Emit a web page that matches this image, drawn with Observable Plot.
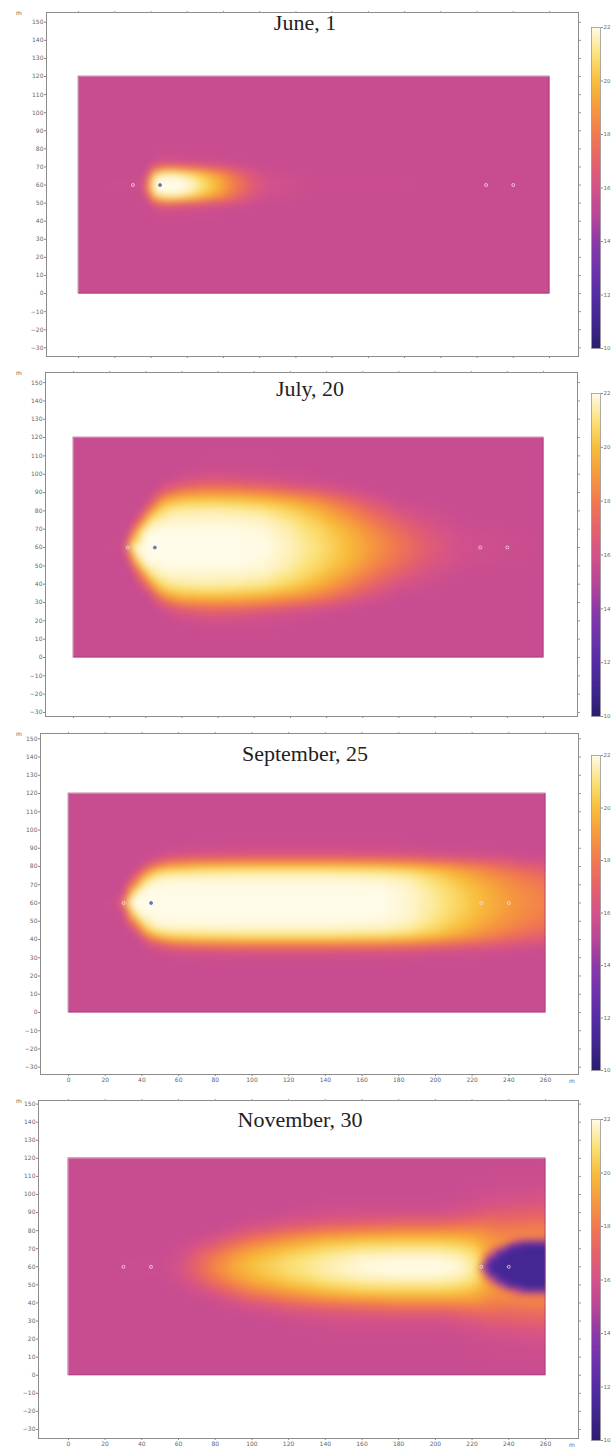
<!DOCTYPE html>
<html><head><meta charset="utf-8">
<script src="https://cdn.jsdelivr.net/npm/d3@7"></script>
<script src="https://cdn.jsdelivr.net/npm/@observablehq/plot@0.6"></script>
<style>
body{margin:0;background:#fff;}
#root{position:relative;width:616px;height:1450px;overflow:hidden;}
.abs{position:absolute;}
.title{font-family:"Liberation Serif",serif;font-size:22px;line-height:22px;color:#222;white-space:nowrap;transform:translateX(-50%);}
.unit{font-family:"DejaVu Sans",sans-serif;font-size:6px;line-height:6px;color:#666;}
</style></head><body><div id="root"></div>
<script>
// ---------- data ----------
const titles = ["June, 1", "July, 20", "September, 25", "November, 30"];
const wellX = [30, 45, 225, 240];
const wellLineY = 60;
const tankX = [0, 260];
const tankY = [0, 120];
const yTicks = [-30,-20,-10,0,10,20,30,40,50,60,70,80,90,100,110,120,130,140,150];
const xTicks = [0,20,40,60,80,100,120,140,160,180,200,220,240,260];
const cbTicks = [10,12,14,16,18,20,22];
const tempStops  = [10,11,12,13,14,15,16,17,18,19,20,21,22];
const tempColors = ["#2c1d6e","#40268f","#552ca5","#6f33ac","#8b3aa8","#ba4696","#d4528a","#e5626a","#f17a4f","#f69a3d","#f8be3c","#fbe27a","#fffbe8"];

// June 1 : columns at x stations, values at distances dy from the well line
const juneX  = [0, 30, 36, 39, 42, 48, 55, 62, 70, 78, 86, 95, 105, 130, 260];
const juneDy = [0, 3, 6, 8, 10, 12, 16, 25, 60];
const juneT = [
 [15.5,15.5,15.5,15.5,15.5,15.5,15.5,15.5,15.5],
 [15.6,15.6,15.5,15.5,15.5,15.5,15.5,15.5,15.5],
 [15.9,15.8,15.7,15.6,15.6,15.5,15.5,15.5,15.5],
 [19.5,18.8,17.2,16.2,15.8,15.6,15.5,15.5,15.5],
 [22.0,21.9,20.8,18.8,16.9,16.0,15.6,15.5,15.5],
 [22.0,22.0,21.6,20.2,17.8,16.3,15.7,15.5,15.5],
 [22.0,22.0,21.5,20.0,17.6,16.2,15.7,15.5,15.5],
 [21.8,21.6,20.8,19.4,17.2,16.1,15.6,15.5,15.5],
 [20.8,20.6,19.8,18.6,16.8,15.9,15.6,15.5,15.5],
 [19.6,19.4,18.8,17.8,16.5,15.8,15.6,15.5,15.5],
 [18.2,18.0,17.5,16.9,16.1,15.7,15.5,15.5,15.5],
 [16.8,16.7,16.4,16.1,15.8,15.6,15.5,15.5,15.5],
 [16.0,15.9,15.8,15.7,15.6,15.5,15.5,15.5,15.5],
 [15.6,15.6,15.5,15.5,15.5,15.5,15.5,15.5,15.5],
 [15.5,15.5,15.5,15.5,15.5,15.5,15.5,15.5,15.5]
];

// July 20
const julyX  = [0, 25, 29, 31, 34, 38, 42, 47, 52, 60, 75, 90, 105, 120, 135, 150, 165, 180, 195, 215, 260];
const julyDy = [0, 8, 14, 20, 24, 28, 31, 34, 38, 45, 60];
const julyT = [
 [15.5,15.5,15.5,15.5,15.5,15.5,15.5,15.5,15.5,15.5,15.5],
 [15.6,15.5,15.5,15.5,15.5,15.5,15.5,15.5,15.5,15.5,15.5],
 [16.5,15.6,15.5,15.5,15.5,15.5,15.5,15.5,15.5,15.5,15.5],
 [20.5,16.2,15.6,15.5,15.5,15.5,15.5,15.5,15.5,15.5,15.5],
 [22.0,19.5,16.0,15.6,15.5,15.5,15.5,15.5,15.5,15.5,15.5],
 [22.0,21.6,18.8,16.0,15.6,15.5,15.5,15.5,15.5,15.5,15.5],
 [22.0,22.0,21.2,18.5,16.4,15.7,15.5,15.5,15.5,15.5,15.5],
 [22.0,22.0,21.6,20.6,19.2,17.0,16.1,15.7,15.5,15.5,15.5],
 [22.0,22.0,21.8,21.2,20.2,18.6,17.0,16.1,15.6,15.5,15.5],
 [22.0,22.0,21.8,21.4,20.7,19.4,18.0,16.7,15.9,15.5,15.5],
 [22.0,22.0,21.8,21.5,20.8,19.6,18.4,17.2,16.2,15.6,15.5],
 [22.0,22.0,21.8,21.4,20.7,19.5,18.3,17.1,16.1,15.6,15.5],
 [22.0,21.9,21.7,21.2,20.4,19.2,17.9,16.8,15.9,15.6,15.5],
 [21.6,21.5,21.2,20.6,19.8,18.6,17.3,16.3,15.8,15.5,15.5],
 [21.0,20.8,20.4,19.7,18.9,17.8,16.8,16.0,15.6,15.5,15.5],
 [20.1,19.9,19.3,18.5,17.7,16.8,16.1,15.7,15.5,15.5,15.5],
 [19.0,18.7,18.0,17.2,16.6,16.0,15.7,15.5,15.5,15.5,15.5],
 [17.9,17.5,16.9,16.2,15.8,15.6,15.5,15.5,15.5,15.5,15.5],
 [16.8,16.5,16.1,15.8,15.6,15.5,15.5,15.5,15.5,15.5,15.5],
 [15.9,15.8,15.6,15.5,15.5,15.5,15.5,15.5,15.5,15.5,15.5],
 [15.5,15.5,15.5,15.5,15.5,15.5,15.5,15.5,15.5,15.5,15.5]
];

// September 25
const sepX  = [0, 25, 29, 31, 34, 38, 42, 47, 55, 70, 100, 140, 170, 185, 200, 215, 230, 245, 260];
const sepDy = [0, 6, 12, 16, 19, 22, 25, 28, 33, 40, 60];
const sepT = [
 [15.5,15.5,15.5,15.5,15.5,15.5,15.5,15.5,15.5,15.5,15.5],
 [15.6,15.5,15.5,15.5,15.5,15.5,15.5,15.5,15.5,15.5,15.5],
 [16.5,15.6,15.5,15.5,15.5,15.5,15.5,15.5,15.5,15.5,15.5],
 [20.5,16.0,15.6,15.5,15.5,15.5,15.5,15.5,15.5,15.5,15.5],
 [22.0,20.0,16.4,15.7,15.5,15.5,15.5,15.5,15.5,15.5,15.5],
 [22.0,21.8,19.0,16.5,15.8,15.6,15.5,15.5,15.5,15.5,15.5],
 [22.0,22.0,21.2,19.4,17.0,15.9,15.6,15.5,15.5,15.5,15.5],
 [22.0,22.0,21.8,20.8,19.0,16.8,15.9,15.6,15.5,15.5,15.5],
 [22.0,22.0,21.9,21.3,20.2,18.0,16.4,15.8,15.5,15.5,15.5],
 [22.0,22.0,21.9,21.4,20.5,18.6,16.8,15.9,15.6,15.5,15.5],
 [22.0,22.0,21.9,21.5,20.7,18.9,17.0,16.0,15.6,15.5,15.5],
 [22.0,22.0,21.9,21.5,20.7,18.9,17.0,16.0,15.6,15.5,15.5],
 [22.0,22.0,21.8,21.4,20.5,18.7,16.9,16.0,15.6,15.5,15.5],
 [21.8,21.8,21.6,21.1,20.2,18.5,16.8,15.9,15.6,15.5,15.5],
 [21.3,21.2,20.9,20.4,19.6,18.0,16.5,15.8,15.5,15.5,15.5],
 [20.5,20.4,20.0,19.5,18.8,17.5,16.3,15.8,15.5,15.5,15.5],
 [19.6,19.5,19.1,18.6,18.0,17.0,16.1,15.7,15.5,15.5,15.5],
 [18.8,18.7,18.3,17.8,17.2,16.5,15.9,15.6,15.5,15.5,15.5],
 [18.2,18.1,17.7,17.2,16.7,16.1,15.7,15.5,15.5,15.5,15.5]
];

// November 30
const novX  = [0, 50, 60, 70, 80, 90, 100, 120, 140, 160, 180, 200, 212, 220, 224, 226, 230, 235, 240, 250, 260];
const novDy = [0, 4, 8, 11, 13, 15, 18, 21, 25, 30, 36, 45, 60];
const novT = [
 [15.5,15.5,15.5,15.5,15.5,15.5,15.5,15.5,15.5,15.5,15.5,15.5,15.5],
 [15.6,15.6,15.5,15.5,15.5,15.5,15.5,15.5,15.5,15.5,15.5,15.5,15.5],
 [16.0,15.9,15.8,15.7,15.6,15.6,15.5,15.5,15.5,15.5,15.5,15.5,15.5],
 [17.2,17.0,16.6,16.2,16.0,15.8,15.6,15.5,15.5,15.5,15.5,15.5,15.5],
 [18.4,18.2,17.6,17.0,16.6,16.3,15.9,15.6,15.5,15.5,15.5,15.5,15.5],
 [19.4,19.2,18.6,18.0,17.5,17.0,16.4,15.9,15.6,15.5,15.5,15.5,15.5],
 [20.1,19.9,19.4,18.8,18.3,17.8,17.0,16.3,15.8,15.5,15.5,15.5,15.5],
 [20.9,20.8,20.3,19.8,19.3,18.8,18.0,17.0,16.2,15.7,15.5,15.5,15.5],
 [21.5,21.4,21.0,20.5,20.1,19.6,18.7,17.6,16.5,15.9,15.6,15.5,15.5],
 [21.9,21.8,21.4,20.9,20.5,20.0,19.0,17.9,16.7,16.0,15.6,15.5,15.5],
 [22.0,21.9,21.5,21.0,20.6,20.1,19.2,18.2,16.9,16.0,15.6,15.5,15.5],
 [22.0,21.9,21.5,21.0,20.6,20.1,19.2,18.2,16.9,16.0,15.6,15.5,15.5],
 [21.9,21.7,21.3,20.8,20.4,20.0,19.2,18.3,17.1,16.2,15.7,15.5,15.5],
 [21.4,21.3,20.9,20.5,20.1,19.7,19.1,18.4,17.3,16.4,15.8,15.6,15.5],
 [20.5,20.6,20.4,20.0,19.7,19.4,18.9,18.3,17.4,16.5,15.9,15.6,15.5],
 [11.8,19.6,19.9,19.7,19.4,19.2,18.8,18.3,17.5,16.6,16.0,15.6,15.5],
 [11.3,11.4,18.6,19.2,19.1,18.9,18.5,18.1,17.5,16.7,16.0,15.6,15.5],
 [11.3,11.3,11.5,18.4,18.8,18.7,18.4,18.0,17.4,16.7,16.1,15.7,15.5],
 [11.2,11.2,11.3,11.6,18.2,18.6,18.4,18.0,17.4,16.8,16.1,15.7,15.5],
 [11.2,11.2,11.2,11.3,11.8,17.8,18.4,18.1,17.5,16.9,16.2,15.7,15.5],
 [11.2,11.2,11.2,11.3,11.9,17.6,18.4,18.2,17.6,17.0,16.3,15.8,15.5]
];

// ---------- build ----------
function field(xs, dys, cols) {
  const pts = [];
  xs.forEach((x, i) => dys.forEach((dy, j) => {
    pts.push({x, y: wellLineY + dy, t: cols[i][j]});
    if (dy > 0) pts.push({x, y: wellLineY - dy, t: cols[i][j]});
  }));
  return pts;
}
const fields = [field(juneX, juneDy, juneT), field(julyX, julyDy, julyT), field(sepX, sepDy, sepT), field(novX, novDy, novT)];

const layout = [
  {L:46, R:578, T:12,   B:356,  xd:[-17.7,276.0], yd:[-34.8,155.4], xlab:false, cb:[27,348],    title:[305,12]},
  {L:45, R:577, T:372,  B:716,  xd:[-15.5,278.8], yd:[-32.2,155.5], xlab:false, cb:[393,716],   title:[310,378]},
  {L:40, R:578, T:733,  B:1074, xd:[-15.3,278.0], yd:[-34.0,152.9], xlab:true,  cb:[755,1070],  title:[305,743]},
  {L:38, R:578, T:1100, B:1438, xd:[-16.3,278.0], yd:[-35.0,152.0], xlab:true,  cb:[1119,1440], title:[300,1109]}
];

const colorScale = {type:"linear", domain: tempStops, range: tempColors, interpolate:"rgb", clamp:true};
const root = document.getElementById("root");
const MT = 6, MB = 12;
const axisFont = {fontSize: 6, fill: "#666"};

layout.forEach((p, k) => {
  const tank = [{x1: tankX[0], x2: tankX[1], y1: tankY[0], y2: tankY[1]}];
  const svg = Plot.plot({
    width: 616,
    height: p.B - p.T + MT + MB,
    marginLeft: p.L, marginRight: 616 - p.R, marginTop: MT, marginBottom: MB,
    x: {domain: p.xd},
    y: {domain: p.yd},
    color: colorScale,
    style: {background: "none", fontFamily: "DejaVu Sans, sans-serif", overflow: "visible"},
    marks: [
      Plot.raster(fields[k], {x: "x", y: "y", fill: "t", interpolate: "barycentric",
        x1: tankX[0], x2: tankX[1], y1: tankY[0], y2: tankY[1], blur: 3}),
      Plot.rect(tank, {x1: "x1", x2: "x2", y1: "y1", y2: "y2", fill: "none", stroke: "#9c3a77", strokeWidth: 0.8, strokeOpacity: 0.8}),
      Plot.dot(wellX, {x: d => d, y: () => wellLineY, r: 1.5,
        fill: d => (d === 45 && k < 3) ? "#5d78b0" : "none",
        stroke: d => (d === 45 && k < 3) ? "#5d78b0" : "#f4dbe9", strokeWidth: 0.8}),
      Plot.frame({stroke: "#8c8c8c", strokeWidth: 1}),
      Plot.axisY(yTicks, {anchor: "left", tickSize: 2, tickPadding: 1, label: null, ...axisFont, stroke: "#888"}),
      Plot.axisY(yTicks, {anchor: "right", tickSize: 2, label: null, tickFormat: () => "", stroke: "#999"}),
      Plot.axisX(xTicks, {anchor: "top", tickSize: 2, label: null, tickFormat: () => "", stroke: "#999"}),
      Plot.axisX(xTicks, {anchor: "bottom", tickSize: 2, tickPadding: 1, label: null, ...axisFont, stroke: "#888",
        tickFormat: p.xlab ? (d => String(d)) : () => ""})
    ]
  });
  svg.classList.add("abs");
  svg.style.left = "0px";
  svg.style.top = (p.T - MT) + "px";
  root.appendChild(svg);

  // colour bar
  const cbH = p.cb[1] - p.cb[0];
  const cb = Plot.plot({
    width: 27, height: cbH + 4,
    marginLeft: 2, marginRight: 16, marginTop: 2, marginBottom: 2,
    x: {domain: [0, 1], axis: null},
    y: {domain: [tempStops[0], tempStops[tempStops.length - 1]], axis: null},
    color: colorScale,
    style: {background: "none", fontFamily: "DejaVu Sans, sans-serif", overflow: "visible"},
    marks: [
      Plot.raster({fill: (x, y) => y, x1: 0, x2: 1, y1: tempStops[0], y2: tempStops[tempStops.length - 1]}),
      Plot.frame({stroke: "#9a9a9a", strokeWidth: 0.8}),
      Plot.axisY(cbTicks, {anchor: "right", tickSize: 2, tickPadding: 1, label: null, fontSize: 5.5, fill: "#666", stroke: "#888"})
    ]
  });
  cb.classList.add("abs");
  cb.style.left = "589px";
  cb.style.top = (p.cb[0] - 2) + "px";
  root.appendChild(cb);

  // title
  const t = document.createElement("div");
  t.className = "abs title";
  t.textContent = titles[k];
  t.style.left = p.title[0] + "px";
  t.style.top = p.title[1] + "px";
  root.appendChild(t);

  // unit labels
  const m1 = document.createElement("div");
  m1.className = "abs unit";
  m1.textContent = "m";
  m1.style.left = "16px";
  m1.style.top = (p.T - 2) + "px";
  root.appendChild(m1);
  if (p.xlab) {
    const m2 = document.createElement("div");
    m2.className = "abs unit";
    m2.textContent = "m";
    m2.style.left = "569px";
    m2.style.top = (p.B + 4) + "px";
    root.appendChild(m2);
  }
});
</script></body></html>
